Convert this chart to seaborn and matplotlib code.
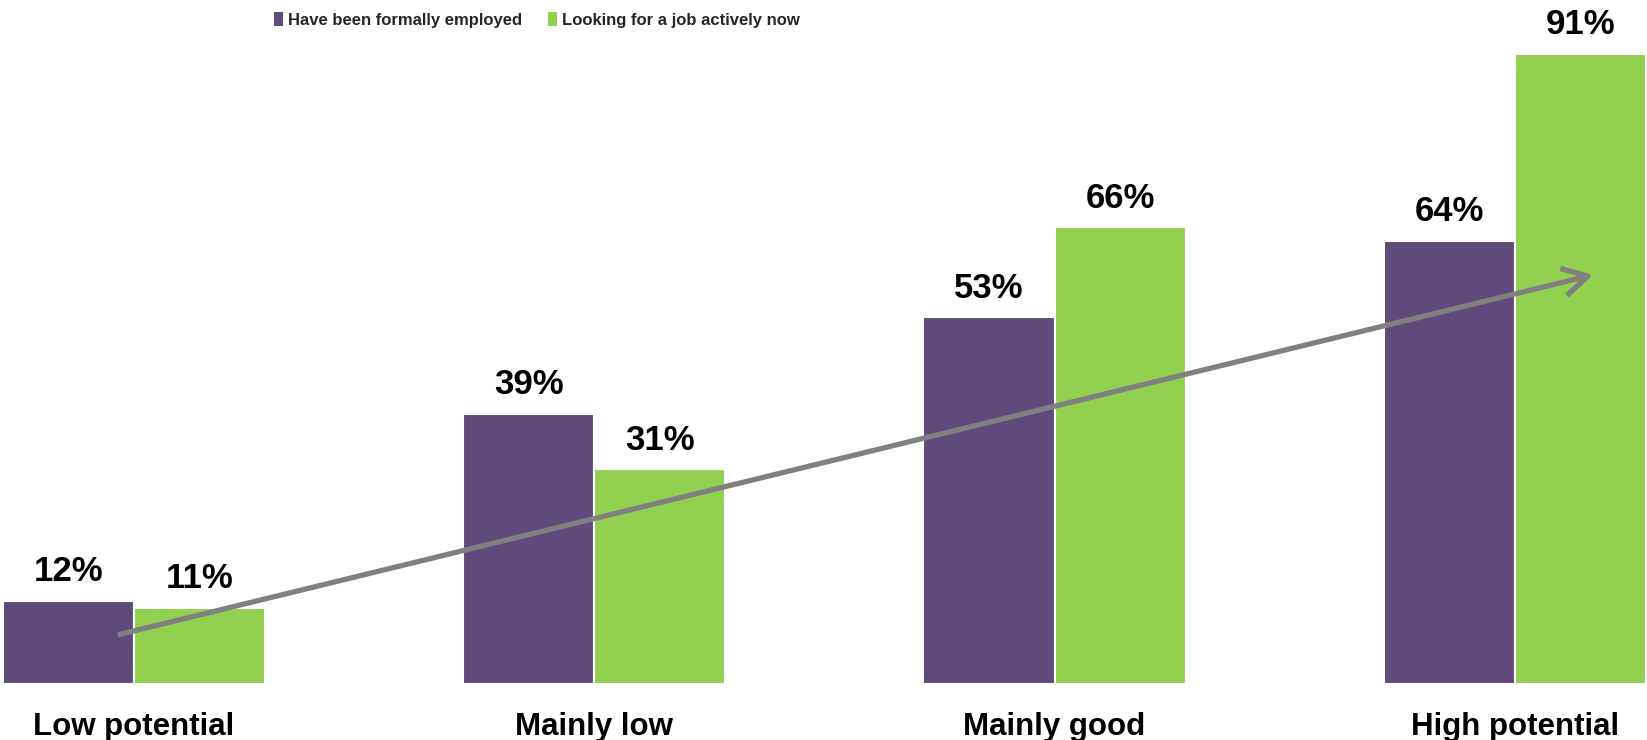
import matplotlib
matplotlib.use("Agg")
import matplotlib.pyplot as plt
from matplotlib import font_manager
from matplotlib.patches import Patch
import seaborn as sns
import pandas as pd

# Data
categories = ["Low potential", "Mainly low", "Mainly good", "High potential"]
series_names = ["Have been formally employed", "Looking for a job actively now"]
employed = [12, 39, 53, 64]
looking = [11, 31, 66, 91]
colors = ["#604A7B", "#92D050"]

sns.set_theme(style="white")
plt.rcParams["font.family"] = ["Liberation Sans", "DejaVu Sans"]
plt.rcParams["font.weight"] = "bold"

installed = {f.name for f in font_manager.fontManager.ttflist}
narrow = "Liberation Sans Narrow" in installed
legend_family = "Liberation Sans Narrow" if narrow else "Liberation Sans"
legend_size = 13.8 if narrow else 12.0

df = pd.DataFrame({
    "category": categories * 2,
    "series": [series_names[0]] * len(categories) + [series_names[1]] * len(categories),
    "value": employed + looking,
})

fig = plt.figure(figsize=(16.47, 7.40), dpi=100)
ax = fig.add_axes([0.0, 56 / 740, 1.0, 684 / 740])

sns.barplot(data=df, x="category", y="value", hue="series", order=categories,
            hue_order=series_names, palette=colors, width=0.57, dodge=True,
            edgecolor="white", linewidth=1.5, saturation=1, legend=False, ax=ax)

for container in ax.containers:
    ax.bar_label(container, fmt="{:.0f}%", padding=9, fontsize=25,
                 fontweight="bold", color="black")

ax.set_xlim(-0.291, 3.287)
ax.set_ylim(0, 98.8)
ax.set_xlabel("")
ax.set_ylabel("")
ax.set_yticks([])
ax.tick_params(axis="x", length=0, pad=20.5, labelsize=22.5)
for lbl in ax.get_xticklabels():
    lbl.set_fontweight("bold")
    lbl.set_color("black")
sns.despine(ax=ax, left=True, bottom=True)

# Trend arrow across the groups
ax.annotate("", xy=(3.17, 59.1), xytext=(-0.035, 7.1),
            arrowprops=dict(arrowstyle="->,head_length=0.9,head_width=0.5",
                            color="#808080", lw=3.8, mutation_scale=20,
                            capstyle="butt", joinstyle="round",
                            shrinkA=0, shrinkB=0))

handles = [Patch(facecolor=c, edgecolor="none") for c in colors]
fig.legend(handles, series_names, loc="center", bbox_to_anchor=(0.326, 0.973),
           ncol=2, frameon=False, handlelength=0.5, handleheight=0.85,
           handletextpad=0.3, columnspacing=1.6,
           prop=dict(family=legend_family, weight="bold", size=legend_size))

fig.savefig("out.png", dpi=100)
